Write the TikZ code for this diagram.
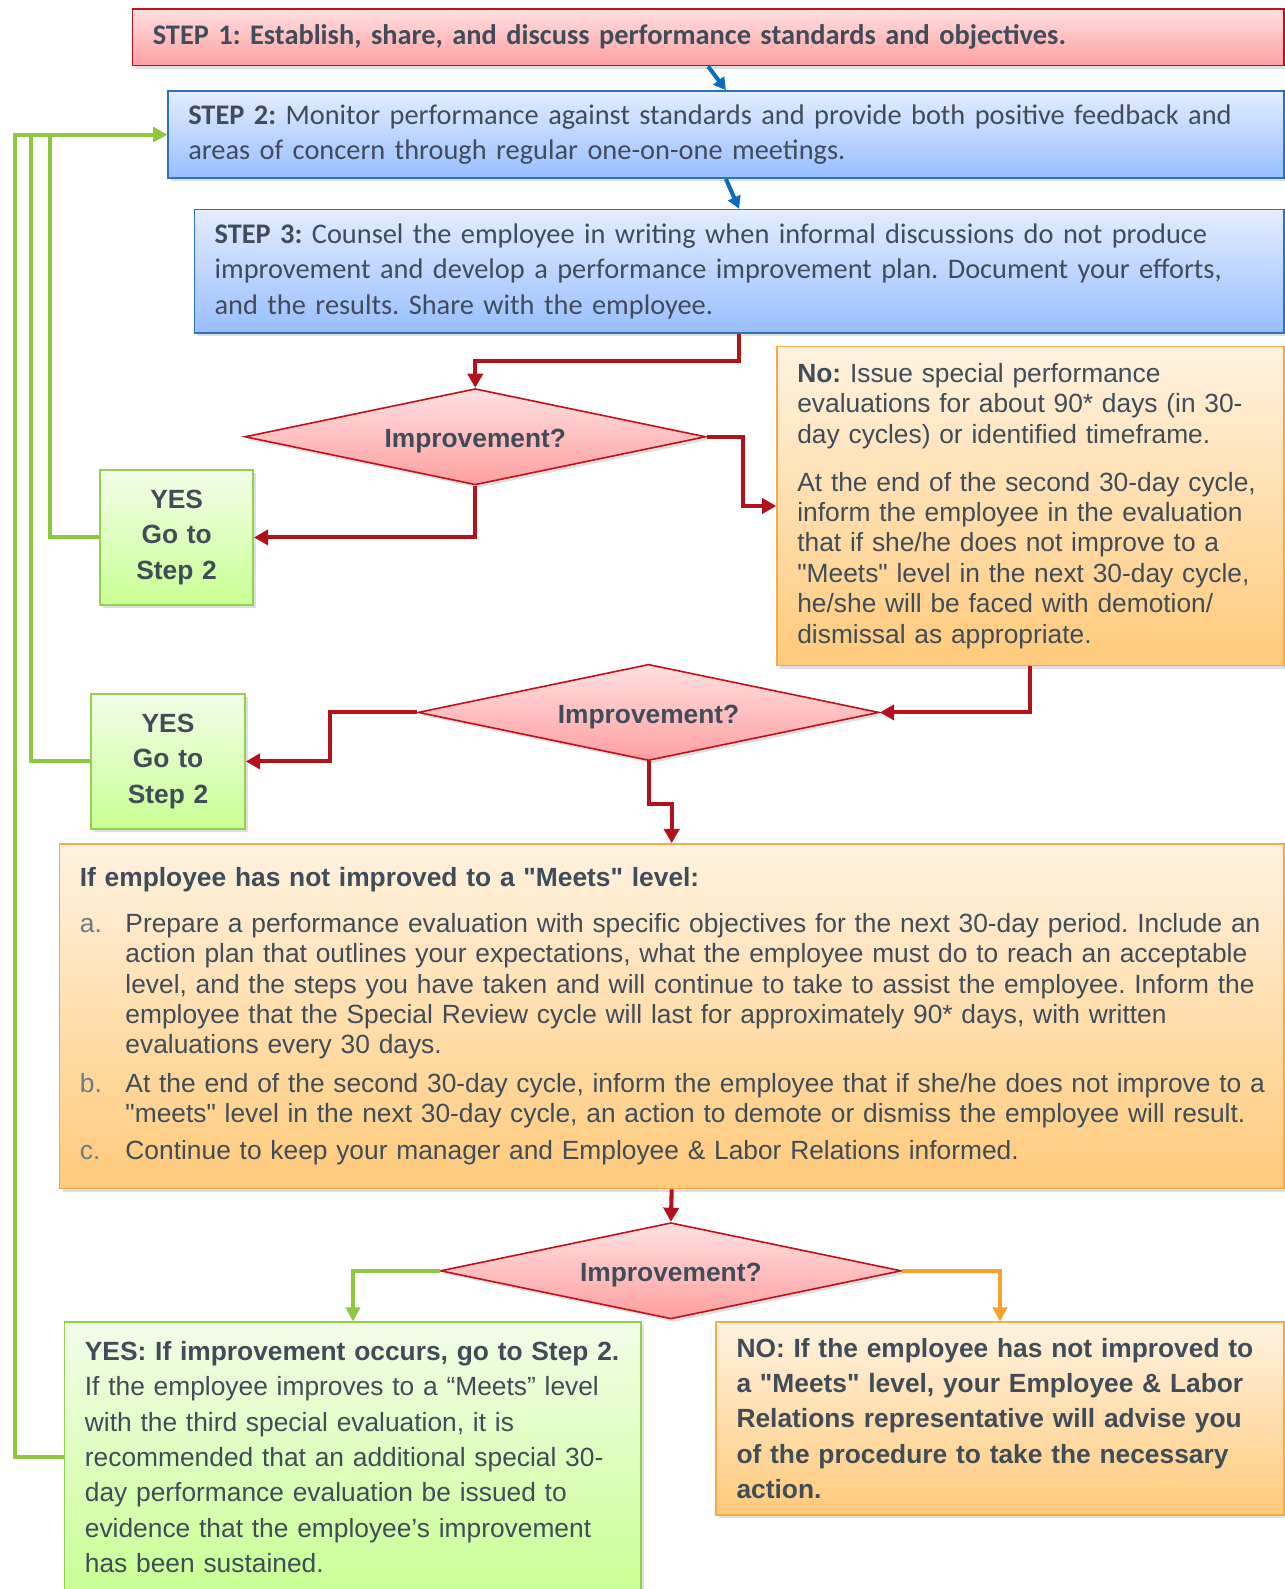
\documentclass[tikz,border=0pt]{standalone}
\usepackage{fontspec}
\setmainfont{Liberation Sans}
\newfontfamily\calibfont{Carlito}
\usetikzlibrary{shapes.geometric,arrows.meta,shadows}
\frenchspacing

\definecolor{txt}{HTML}{404C59}
\definecolor{lbl}{HTML}{6E7A86}
\definecolor{redline}{HTML}{C0121C}
\definecolor{redtop}{HTML}{FFE0E0}
\definecolor{redbot}{HTML}{FF9FA0}
\definecolor{blueline}{HTML}{2E74B5}
\definecolor{bluetop}{HTML}{E3EDFF}
\definecolor{bluebot}{HTML}{98BEFF}
\definecolor{orangeline}{HTML}{F5A94A}
\definecolor{orangetop}{HTML}{FFF2E0}
\definecolor{orangebot}{HTML}{FFCA7A}
\definecolor{greenline}{HTML}{92D050}
\definecolor{greentop}{HTML}{F2FDE8}
\definecolor{greenbot}{HTML}{C9FF94}
\definecolor{redarrow}{HTML}{B3121C}
\definecolor{bluearrow}{HTML}{0A6BC0}
\definecolor{greenarrow}{HTML}{8DC63F}
\definecolor{orangearrow}{HTML}{F5A02F}

\newcommand\qq{\textquotedbl}

\begin{document}
\begin{tikzpicture}[x=0.5pt,y=-0.5pt,
  box/.style = {rectangle, anchor=north west, align=left, inner xsep=10pt, inner ysep=0pt,
    line width=0.8pt, text=txt, drop shadow={opacity=0.25, shadow xshift=1.5pt, shadow yshift=-1.5pt}},
  stepred/.style = {box, draw=redline, top color=redtop, bottom color=redbot,
    font=\calibfont\fontsize{14}{17.5}\selectfont},
  stepblue/.style = {box, draw=blueline, top color=bluetop, bottom color=bluebot,
    font=\calibfont\fontsize{14}{17.5}\selectfont},
  orangebox/.style = {box, draw=orangeline, top color=orangetop, bottom color=orangebot,
    font=\fontsize{13}{15}\selectfont},
  greenbox/.style = {box, draw=greenline, top color=greentop, bottom color=greenbot,
    font=\fontsize{13}{17.5}\selectfont},
  yesbox/.style = {greenbox, align=center, font=\bfseries\fontsize{13}{17.5}\selectfont},
  decision/.style = {diamond, aspect=4.8, minimum width=227.5pt, minimum height=47.5pt, inner sep=0pt,
    text height=14pt, text depth=3pt,
    draw=redline, line width=0.8pt, top color=redtop, bottom color=redbot, text=txt,
    font=\bfseries\fontsize{13}{15}\selectfont,
    drop shadow={opacity=0.25, shadow xshift=1.5pt, shadow yshift=-1.5pt}},
  redflow/.style = {draw=redarrow, line width=2pt, -{Triangle[length=7pt,width=7.5pt]}},
  blueflow/.style = {draw=bluearrow, line width=2pt, -{Triangle[length=6pt,width=6.5pt]}},
  greenflow/.style = {draw=greenarrow, line width=2pt, -{Triangle[length=7pt,width=7pt]}},
  orangeflow/.style = {draw=orangearrow, line width=2pt, -{Triangle[length=7pt,width=7pt]}}]

\useasboundingbox (0,0) rectangle (1268,1568);

% steps
\node[stepred, minimum height=28pt, text width=548pt] (s1) at (130,8)
  {\textbf{STEP 1: Establish, share, and discuss performance standards and objectives.}};
\node[stepblue, minimum height=43pt, text width=530.5pt] (s2) at (165,89)
  {\textbf{STEP 2:} Monitor performance against standards and provide both positive feedback and\newline
   areas of concern through regular one-on-one meetings.};
\node[stepblue, minimum height=61pt, text width=517.5pt] (s3) at (191,206)
  {\textbf{STEP 3:} Counsel the employee in writing when informal discussions do not produce\newline
   improvement and develop a performance improvement plan. Document your efforts,\newline
   and the results. Share with the employee.};

% first check
\node[decision] (d1) at (469,431) {Improvement?};
\node[yesbox, minimum height=66.5pt, text width=55.5pt] (y1) at (98,463) {YES\\Go to\\Step 2};
\node[orangebox, minimum height=157.5pt, text width=230pt] (o1) at (766,341)
  {\textbf{No:} Issue special performance\newline
   evaluations for about 90* days (in 30-\newline
   day cycles) or identified timeframe.\par\vspace{8.5pt}
   At the end of the second 30-day cycle,\newline
   inform the employee in the evaluation\newline
   that if she/he does not improve to a\newline
   \qq Meets\qq{} level in the next 30-day cycle,\newline
   he/she will be faced with demotion/\newline
   dismissal as appropriate.};

% second check
\node[decision] (d2) at (640,703) {Improvement?};
\node[yesbox, minimum height=66.5pt, text width=56pt] (y2) at (89,684) {YES\\Go to\\Step 2};
\node[orangebox, minimum height=170pt, text width=586pt, inner xsep=9pt] (o2) at (58,832)
  {\hspace*{1pt}\textbf{If employee has not improved to a \qq Meets\qq{} level:}\par\vspace{7.5pt}
   \hangindent=23.5pt\hangafter=1\noindent\makebox[23.5pt][l]{\hspace*{1pt}\color{lbl}a.}Prepare a performance evaluation with specific objectives for the next 30-day period. Include an\newline
   action plan that outlines your expectations, what the employee must do to reach an acceptable\newline
   level, and the steps you have taken and will continue to take to assist the employee. Inform the\newline
   employee that the Special Review cycle will last for approximately 90* days, with written\newline
   evaluations every 30 days.\par\vspace{4pt}
   \hangindent=23.5pt\hangafter=1\noindent\makebox[23.5pt][l]{\hspace*{1pt}\color{lbl}b.}At the end of the second 30-day cycle, inform the employee that if she/he does not improve to a\newline
   \qq meets\qq{} level in the next 30-day cycle, an action to demote or dismiss the employee will result.\par\vspace{3pt}
   \hangindent=23.5pt\hangafter=1\noindent\makebox[23.5pt][l]{\hspace*{1pt}\color{lbl}c.}Continue to keep your manager and Employee \& Labor Relations informed.};

% final check
\node[decision] (d3) at (662,1254) {Improvement?};
\node[greenbox, minimum height=133pt, text width=264.5pt] (y3) at (63,1304)
  {\textbf{YES: If improvement occurs, go to Step 2.}\newline
   If the employee improves to a “Meets” level\newline
   with the third special evaluation, it is\newline
   recommended that an additional special 30-\newline
   day performance evaluation be issued to\newline
   evidence that the employee’s improvement\newline
   has been sustained.};
\node[orangebox, minimum height=95pt, text width=260pt, font=\bfseries\fontsize{13}{17.5}\selectfont] (n3) at (706,1304)
  {NO: If the employee has not improved to\newline
   a \qq Meets\qq{} level, your Employee \& Labor\newline
   Relations representative will advise you\newline
   of the procedure to take the necessary\newline
   action.};

% connectors
\draw[blueflow] (s1.south) -- (s2.north);
\draw[blueflow] (s2.south) -- (s3.north);
\draw[redflow] (s3.south) -- ++(0,27) -| (d1.north);
\draw[redflow] (d1.south) |- (y1.east);
\draw[redflow] (d1.east) -- ++(36,0) |- (o1.west);
\draw[redflow] (o1.south) |- (d2.east);
\draw[redflow] (d2.west) -- ++(-86,0) |- (y2.east);
\draw[redflow] (d2.south) -- ++(0,42) -| (o2.north);
\draw[redflow] (o2.south) -- (d3.north);
\draw[greenflow] (d3.west) -| (y3.north);
\draw[orangeflow] (d3.east) -| (n3.north);

% back to step 2
\draw[greenflow] (y1.west) -- ++(-49,0) |- (s2.west);
\draw[greenflow] (y2.west) -- ++(-58,0) |- (s2.west);
\draw[greenflow] (y3.west) -- ++(-48,0) |- (s2.west);

\end{tikzpicture}
\end{document}
